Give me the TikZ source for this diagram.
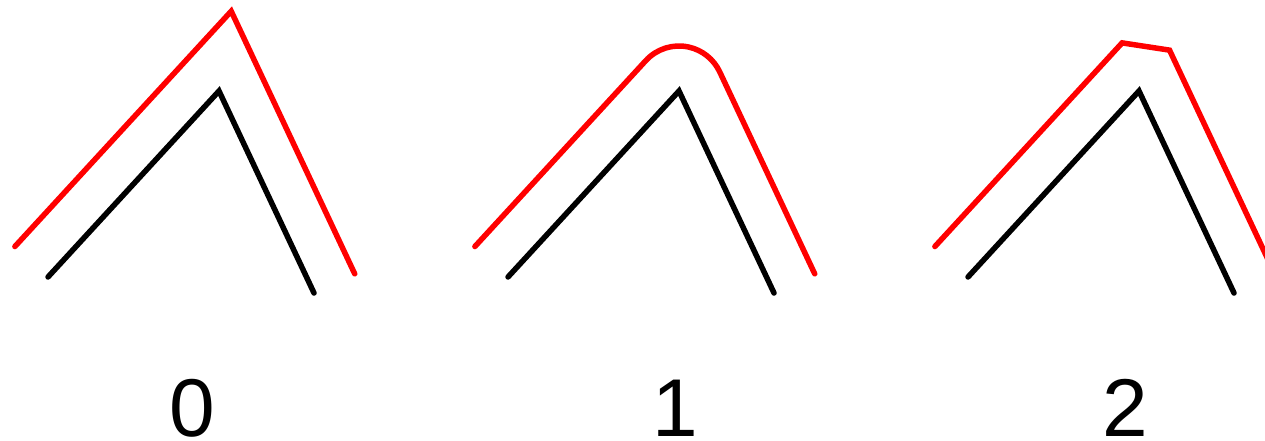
\documentclass[tikz,border=0pt]{standalone}
\usepackage{fontspec}
\setmainfont{Liberation Sans}
\begin{document}
\begin{tikzpicture}[x=1pt,y=-1pt,
  base/.style={line width=5.5pt,line cap=round},
  orig/.style={base,draw=black,line join=miter},
  offs/.style={base,draw=red,line join=miter},
  lbl/.style={anchor=base,inner sep=0pt,font=\fontsize{82}{98}\selectfont}]
\useasboundingbox (0,0) rectangle (1265,441);
\clip (0,0) rectangle (1265,441);
% panel 0 (miter)
\coordinate (a0) at (48,277);
\coordinate (b0) at (219,91);
\coordinate (c0) at (314,293);
\coordinate (ra0) at (14.87,246.54);
\coordinate (rb0) at (231.22,11.22);
\coordinate (rc0) at (354.73,273.85);
\draw[orig] (a0) -- (b0) -- (c0);
\draw[offs] (ra0) -- (rb0) -- (rc0);
\node[lbl] (l0) at (192,436) {0};
% panel 1 (round)
\coordinate (a1) at (508,277);
\coordinate (b1) at (679,91);
\coordinate (c1) at (774,293);
\coordinate (ra1) at (474.87,246.54);
\coordinate (rb1) at (645.87,60.54);
\coordinate (rc1) at (814.73,273.85);
\draw[orig] (a1) -- (b1) -- (c1);
\draw[offs,line join=round] (ra1) -- (rb1) arc[start angle=-137.4,end angle=-25.2,radius=45] -- (rc1);
\node[lbl] (l1) at (675,436) {1};
% panel 2 (square)
\coordinate (a2) at (968,277);
\coordinate (b2) at (1139,91);
\coordinate (c2) at (1234,293);
\coordinate (ra2) at (934.87,246.54);
\coordinate (rb2) at (1122.11,42.88);
\coordinate (rd2) at (1169.52,50.14);
\coordinate (rc2) at (1274.73,273.85);
\draw[orig] (a2) -- (b2) -- (c2);
\draw[offs] (ra2) -- (rb2) -- (rd2) -- (rc2);
\node[lbl] (l2) at (1125,436) {2};
\end{tikzpicture}
\end{document}
